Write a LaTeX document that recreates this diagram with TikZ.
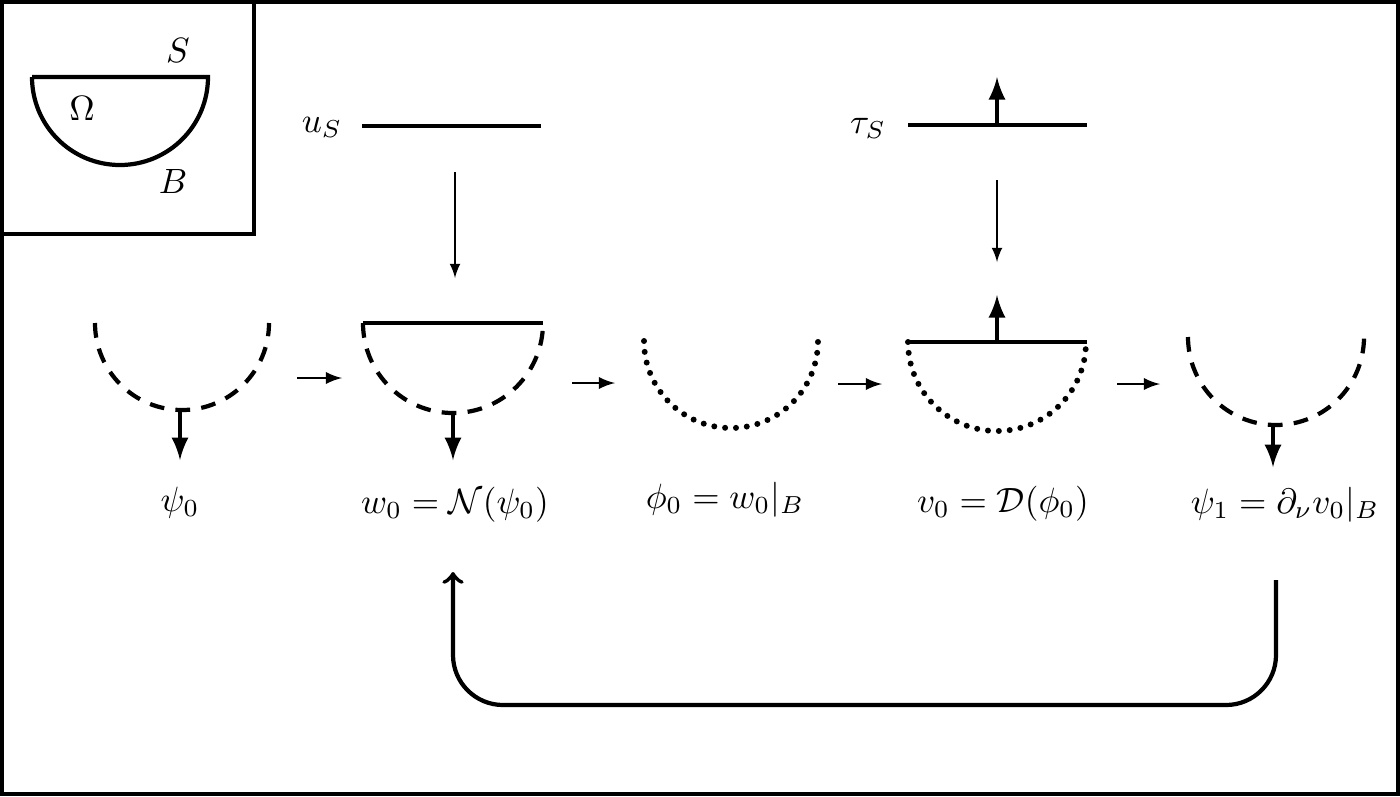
\documentclass[tikz,border=0pt]{standalone}
\usepackage{tikz}
\usetikzlibrary{positioning}

\begin{document}
\begin{tikzpicture}[
	bound/.style 	= {line width=1.2pt},
	dashbound/.style = {line width=1.2pt, dash pattern=on 4.2pt off 3.2pt},
	dotbound/.style = {line width=1.7pt, line cap=round, dash pattern=on 0pt off 3.1pt},
	flow/.style 	= {semithick, -latex},
	feed/.style 	= {thin, -latex},
	drop/.style 	= {line width=1.2pt, -latex, shorten >=4pt},
	lift/.style 	= {line width=1.2pt, -latex}
	]
	%\draw[help lines] (0,0) grid (14,-8);
	\useasboundingbox (0,0) rectangle (14,-7.96);
	\draw[bound] (0.02,-0.02) rectangle (13.98,-7.94);
	
	% domain sketch
	\draw[bound] (0.02,-0.02) rectangle (2.54,-2.34);
	\coordinate (cO) at (1.20,-0.77);
	\draw[bound] (0.32,-0.77) -- (2.08,-0.77) arc (0:-180:0.88);
	\node[anchor=base] (S) at (1.78,-0.62) {$S$};
	\node[anchor=base] (Om) at (0.82,-1.20) {$\Omega$};
	\node[anchor=base] (B) at (1.73,-1.93) {$B$};
	
	% top data
	\node[anchor=base] (uS) at (3.22,-1.32) {$u_S$};
	\draw[bound] (3.62,-1.26) coordinate (uL) -- (5.41,-1.26) coordinate (uR);
	\node[anchor=base] (tauS) at (8.68,-1.33) {$\tau_S$};
	\draw[bound] (9.08,-1.25) -- (10.87,-1.25);
	\coordinate (tS) at (9.97,-1.25);
	\coordinate (tSup) at (9.97,-0.77);
	\draw[lift] (tS) -- (tSup);
	\coordinate (u1) at (4.55,-1.72);
	\coordinate (u2) at (4.55,-2.78);
	\coordinate (t1) at (9.97,-1.80);
	\coordinate (t2) at (9.97,-2.62);
	\draw[feed] (u1) -- (u2);
	\draw[feed] (t1) -- (t2);
	
	% steps
	\coordinate (cA) at (1.82,-3.23);
	\coordinate (cB) at (4.53,-3.23);
	\coordinate (cC) at (7.31,-3.41);
	\coordinate (cD) at (9.97,-3.42);
	\coordinate (cE) at (12.76,-3.37);
	\draw[dashbound] (cA) ++(-0.87,0) arc (180:360:0.87);
	\draw[bound] (3.63,-3.23) -- (5.43,-3.23);
	\draw[dashbound] (cB) ++(-0.90,0) arc (180:360:0.90);
	\draw[dotbound] (cC) ++(-0.87,0) arc (180:360:0.87);
	\draw[bound] (9.08,-3.42) -- (10.87,-3.42);
	\draw[dotbound] (cD) ++(-0.89,0) arc (180:360:0.89);
	\draw[dashbound] (cE) ++(-0.88,0) arc (180:360:0.88);
	\coordinate (dUp) at (9.97,-2.95);
	\draw[lift] (cD) -- (dUp);
	
	\node[anchor=base] (lA) at (1.80,-5.11) {$\psi_0$};
	\node[anchor=base] (lB) at (4.55,-5.13) {$w_0 = \mathcal{N}(\psi_0)$};
	\node[anchor=base] (lC) at (7.25,-5.08) {$\phi_0 = w_0|_B$};
	\node[anchor=base] (lD) at (10.03,-5.12) {$v_0 = \mathcal{D}(\phi_0)$};
	\node[anchor=base] (lE) at (12.85,-5.13) {$\psi_1 = \partial_\nu v_0|_B$};
	
	\coordinate (bA) at (1.80,-4.08);
	\coordinate (bB) at (4.53,-4.11);
	\coordinate (bE) at (12.73,-4.23);
	\draw[drop] (bA) -- (bA |- lA.north);
	\draw[drop] (bB) -- (bB |- lB.north);
	\draw[drop, shorten >=2pt] (bE) -- (bE |- lE.north);
	
	\coordinate (a1) at (2.97,-3.78); \coordinate (a2) at (3.42,-3.78);
	\coordinate (b1) at (5.72,-3.83); \coordinate (b2) at (6.15,-3.83);
	\coordinate (c1) at (8.38,-3.84); \coordinate (c2) at (8.82,-3.84);
	\coordinate (d1) at (11.17,-3.84); \coordinate (d2) at (11.60,-3.84);
	\foreach \s in {a,b,c,d}{\draw[flow] (\s1) -- (\s2);};
	
	% iterate
	\coordinate (r1) at (12.76,-5.80);
	\coordinate (r2) at (4.53,-5.72);
	\draw[line width=1.2pt, ->, rounded corners=5mm] (r1) -- (12.76,-7.05) -- (4.53,-7.05) -- (r2);
\end{tikzpicture}
\end{document}
